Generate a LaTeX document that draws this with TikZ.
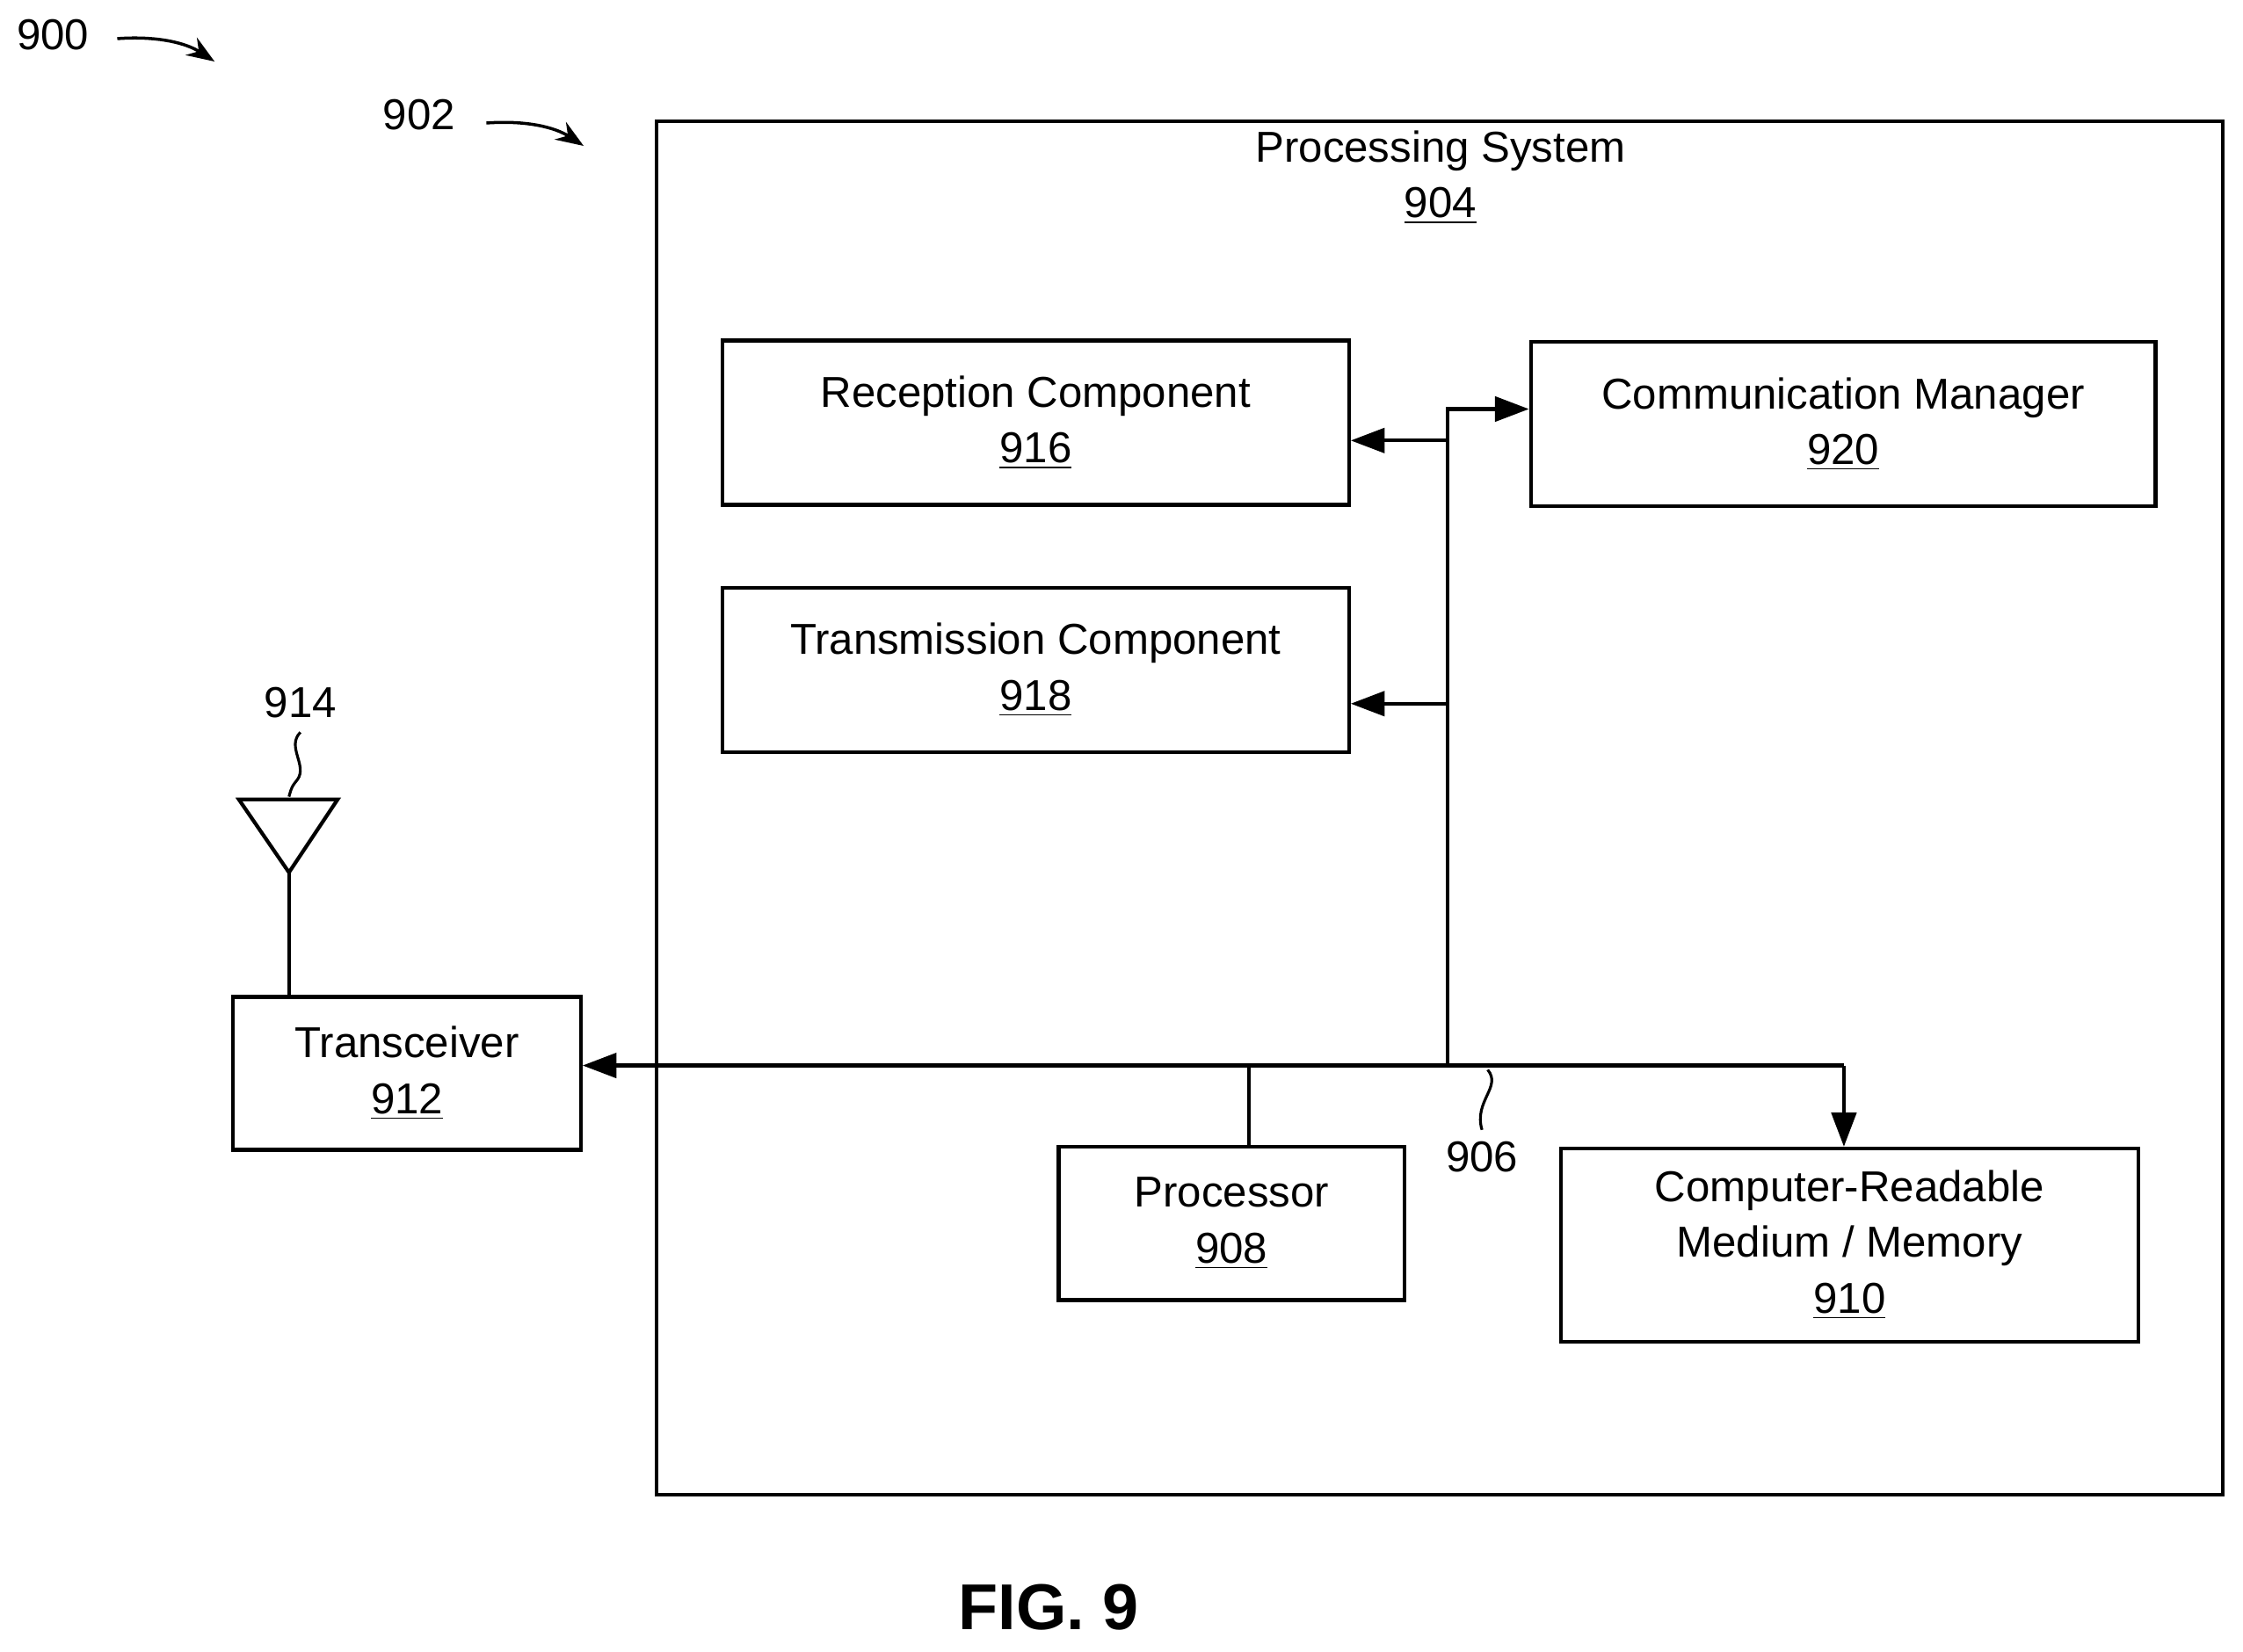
\documentclass[tikz,border=0pt]{standalone}
\usepackage{fontspec}
\setmainfont{Liberation Sans}
\usetikzlibrary{arrows.meta,positioning,calc}

\begin{document}
\begin{tikzpicture}[
    x=0.016276cm, y=-0.016276cm,
    block/.style={rectangle, draw=black, line width=1.2pt, font=\fontsize{14}{17}\selectfont, align=center, inner sep=0pt},
    lbl/.style={font=\fontsize{14}{17}\selectfont},
    bus/.style={line width=1.2pt},
    arr/.style={bus, -{Triangle[length=11pt,width=8pt]}}
]
    \useasboundingbox (0,0) rectangle (1568,1155);

    % Outer processing system
    \draw[line width=1.2pt] (459,85) rectangle (1554,1045);
    \node[lbl, align=center] (procsys) at (1007,124) {Processing System\\[1pt]\underline{904}};

    % Components
    \node[block, minimum width=7.13cm, minimum height=1.87cm] (rx) at (724,295.5) {Reception Component\\[1pt]\underline{916}};
    \node[block, minimum width=7.13cm, minimum height=1.87cm] (tx) at (724,468.5) {Transmission Component\\[1pt]\underline{918}};
    \node[block, minimum width=7.11cm, minimum height=1.87cm] (cm) at (1288.5,296.5) {Communication Manager\\[1pt]\underline{920}};
    \node[block, minimum width=3.955cm, minimum height=1.742cm] (trx) at (284.5,750.5) {Transceiver\\[1pt]\underline{912}};
    \node[block, minimum width=3.939cm, minimum height=1.742cm] (proc) at (861,855.5) {Processor\\[1pt]\underline{908}};
    \node[block, minimum width=6.576cm, minimum height=2.197cm] (mem) at (1293,870.5) {Computer-Readable\\[1pt]Medium / Memory\\[1pt]\underline{910}};

    % Bus coordinates
    \coordinate (busJ) at (1012,745);
    \coordinate (busR) at (1289,745);
    \coordinate (busT) at (1012,286);
    \coordinate (busP) at (873,745);

    % Bus 906
    \draw[arr] (busR) -- (trx.east |- busR);
    \draw[arr] (busR) -- (mem.north -| busR);
    \draw[bus] (busP) -- (proc.north -| busP);
    \draw[arr] (busJ) -- (busT) -- (cm.west |- busT);
    \draw[arr] (1012,308) -- (rx.east |- 0,308);
    \draw[arr] (1012,492) -- (tx.east |- 0,492);

    % Antenna 914
    \draw[line width=1.2pt] (167,559) -- (236,559) -- (202,610) -- cycle;
    \draw[bus] (202,610) -- (trx.north -| 202,0);
    \node[lbl] (l914) at (210,491) {914};
    \draw[line width=0.9pt] (210,512) .. controls (200,522) and (215,535) .. (208,545) .. controls (204,550) .. (202,557);

    % Reference labels
    \node[lbl] (l906) at (1036,809) {906};
    \draw[line width=0.9pt] (1040,748) .. controls (1050,760) and (1030,770) .. (1036,790);
    \node[lbl] (l900) at (37,24) {900};
    \draw[line width=1pt, -{Stealth[length=9pt]}] (82,27) .. controls (110,25) and (130,30) .. (150,43);
    \node[lbl] (l902) at (293,80) {902};
    \draw[line width=1pt, -{Stealth[length=9pt]}] (340,86) .. controls (368,84) and (388,89) .. (408,102);

    \node[font=\fontsize{21}{25}\selectfont\bfseries] (fig) at (733,1124) {FIG. 9};
\end{tikzpicture}
\end{document}
